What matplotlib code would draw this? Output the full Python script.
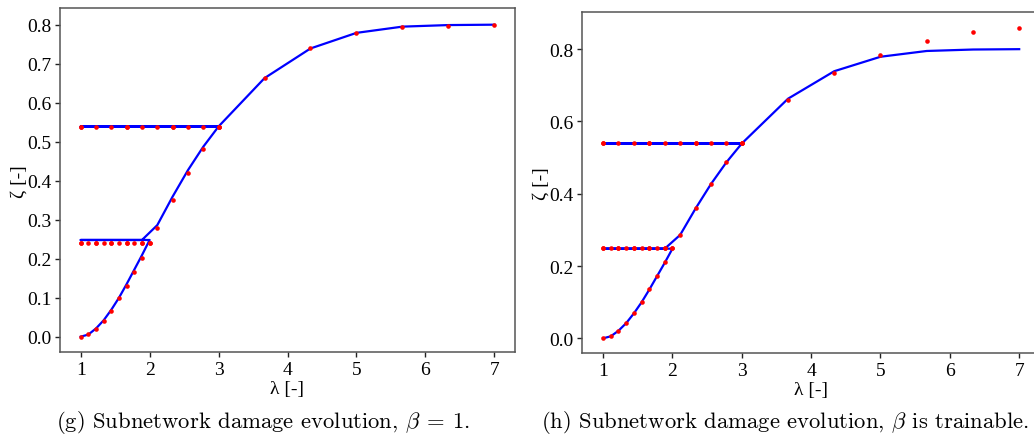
import numpy as np
import matplotlib
matplotlib.use("Agg")
import matplotlib.pyplot as plt

plt.rcParams['font.family'] = ['Liberation Serif', 'DejaVu Serif']
plt.rcParams['mathtext.fontset'] = 'cm'

# Load path: load 1->2, unload 2->1, reload 1->3, unload 3->1, reload 1->7
lam_A = [1.0, 1.111, 1.222, 1.333, 1.444, 1.556, 1.667, 1.778, 1.889, 2.0]
lam_B = [2.0, 1.889, 1.778, 1.667, 1.556, 1.444, 1.333, 1.222, 1.111, 1.0]
lam_C = [1.0, 1.222, 1.444, 1.667, 1.889, 2.111, 2.333, 2.556, 2.778, 3.0]
lam_D = [3.0, 2.778, 2.556, 2.333, 2.111, 1.889, 1.667, 1.444, 1.222, 1.0]
lam_E = [1.0, 1.667, 2.333, 3.0, 3.667, 4.333, 5.0, 5.667, 6.333, 7.0]

# ground-truth damage (blue)
true_A = [0.0, 0.0055, 0.021, 0.042, 0.069, 0.100, 0.135, 0.172, 0.209, 0.248]
true_B = [0.248] * 10
true_C = [0.248, 0.248, 0.248, 0.248, 0.248, 0.286, 0.359, 0.427, 0.487, 0.539]
true_D = [0.539] * 10
true_E = [0.539, 0.539, 0.539, 0.539, 0.663, 0.739, 0.779, 0.795, 0.799, 0.800]

# predictions, beta = 1 (red, left)
pg_A = [0.0, 0.006, 0.0205, 0.041, 0.067, 0.098, 0.131, 0.166, 0.203, 0.241]
pg_B = [0.241] * 10
pg_C = [0.241, 0.241, 0.241, 0.241, 0.241, 0.278, 0.351, 0.420, 0.482, 0.538]
pg_D = [0.538] * 10
pg_E = [0.538, 0.538, 0.538, 0.538, 0.664, 0.740, 0.779, 0.795, 0.796, 0.799]

# predictions, beta trainable (red, right)
ph_A = [0.0, 0.0055, 0.021, 0.042, 0.070, 0.101, 0.136, 0.173, 0.210, 0.249]
ph_B = [0.249] * 10
ph_C = [0.249, 0.249, 0.249, 0.249, 0.249, 0.287, 0.360, 0.427, 0.487, 0.540]
ph_D = [0.540] * 10
ph_E = [0.540, 0.540, 0.540, 0.540, 0.658, 0.734, 0.784, 0.822, 0.848, 0.859]

lam = lam_A + lam_B + lam_C + lam_D + lam_E
true = true_A + true_B + true_C + true_D + true_E
pred_g = pg_A + pg_B + pg_C + pg_D + pg_E
pred_h = ph_A + ph_B + ph_C + ph_D + ph_E

xticks = [1, 2, 3, 4, 5, 6, 7]
yticks_g = [0.0, 0.1, 0.2, 0.3, 0.4, 0.5, 0.6, 0.7, 0.8]
yticks_h = [0.0, 0.2, 0.4, 0.6, 0.8]

W, H = 1034, 435
fig = plt.figure(figsize=(W / 100, H / 100), dpi=100)

def px_axes(l, t, r, b):
    return fig.add_axes([l / W, 1 - b / H, (r - l) / W, (b - t) / H])

ax1 = px_axes(60, 9.3, 515, 353.3)
ax2 = px_axes(582.3, 13.3, 1040, 354.3)

for ax, pred, yt in [(ax1, pred_g, yticks_g), (ax2, pred_h, yticks_h)]:
    ax.plot(lam, true, color='#0000ff', lw=1.6, zorder=2)
    ax.plot(lam, pred, 'o', color='#ff0000', ms=3.3, mew=0, zorder=3, linestyle='none')
    ax.set_xticks(xticks)
    ax.set_yticks(yt)
    ax.yaxis.set_major_formatter(matplotlib.ticker.FormatStrFormatter('%.1f'))
    ax.tick_params(labelsize=14, length=3.5, width=1, color='#222222', pad=2.5)
    for s in ax.spines.values():
        s.set_color('#555555')
        s.set_linewidth(1.1)
    ax.set_xlabel('λ [-]', fontsize=14, labelpad=2)
    ax.set_ylabel('ζ [-]', fontsize=14, labelpad=0)

ax1.set_xlim(0.7, 7.3)
ax1.set_ylim(-0.04, 0.842)
ax2.set_xlim(0.7, 7.3)
ax2.set_ylim(-0.0415, 0.902)

fig.text(263 / W, 1 - 422.5 / H, r'(g) Subnetwork damage evolution, $\beta\:=\:1$.',
         family='cmr10', fontsize=16.3, ha='center', va='center')
fig.text(785 / W, 1 - 422.5 / H, r'(h) Subnetwork damage evolution, $\beta$ is trainable.',
         family='cmr10', fontsize=16.3, ha='center', va='center')

fig.savefig('out.png', dpi=100)
